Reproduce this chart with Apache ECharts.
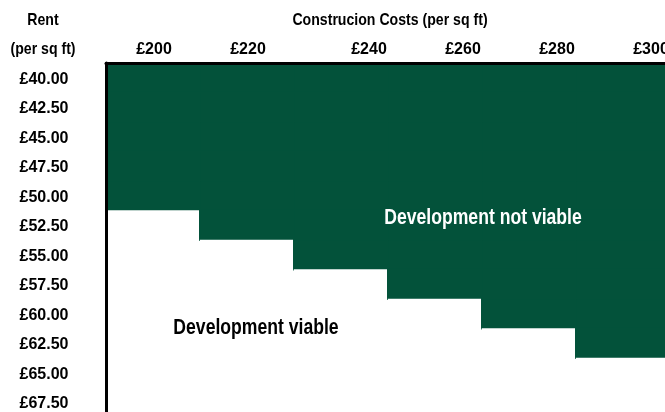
<!DOCTYPE html>
<html>
<head>
<meta charset="utf-8">
<style>html,body{margin:0;padding:0;background:#fff;overflow:hidden;width:665px;height:412px;}#c{width:675px;height:422px;}</style>
<script src="https://cdn.jsdelivr.net/npm/echarts@6/dist/echarts.min.js"></script>
</head>
<body>
<div id="c"></div>
<script>
// Data
const costs = ['£200', '£220', '£240', '£260', '£280', '£300'];
const rents = ['£40.00', '£42.50', '£45.00', '£47.50', '£50.00', '£52.50', '£55.00', '£57.50', '£60.00', '£62.50', '£65.00', '£67.50'];
// rent values for each row
const rentValues = [40, 42.5, 45, 47.5, 50, 52.5, 55, 57.5, 60, 62.5, 65, 67.5];
// minimum rent at which development becomes viable, per construction cost
const viableFromRent = [52.5, 55, 57.5, 60, 62.5, 65];
const xTitle = 'Construcion Costs (per sq ft)';
const yTitle1 = 'Rent';
const yTitle2 = '(per sq ft)';
const labelNotViable = 'Development not viable';
const labelViable = 'Development viable';

const FONT = '"Liberation Sans", Arial, sans-serif';
const GREEN = '#03523a';

const cells = [];
costs.forEach((c, xi) => {
  rentValues.forEach((r, yi) => {
    const v = r >= viableFromRent[xi] ? 0 : 1;
    cells.push({value: [xi, yi, v], itemStyle: v ? {borderWidth: 1.5, borderColor: GREEN} : {borderWidth: 0}});
  });
});

const chart = echarts.init(document.getElementById('c'), null, {renderer: 'canvas', width: 675, height: 422});
chart.setOption({
  animation: false,
  backgroundColor: '#fff',
  grid: {left: 106, top: 63, width: 564, height: 354},
  xAxis: {
    type: 'category', data: costs, position: 'top', z: 10,
    axisLine: {show: true, lineStyle: {color: '#000', width: 3}},
    axisTick: {show: false}, splitLine: {show: false},
    axisLabel: {
      margin: 5, color: '#000', fontFamily: FONT, fontWeight: 'bold', fontSize: 16,
      formatter: (v, i) => i >= 2 ? '{s|' + v + '}' : '{n|' + v + '}',
      rich: {
        n: {fontFamily: FONT, fontWeight: 'bold', fontSize: 16, color: '#000', padding: [0, 0, 0, 2]},
        s: {fontFamily: FONT, fontWeight: 'bold', fontSize: 16, color: '#000', padding: [0, 0, 0, 56]}
      }
    }
  },
  yAxis: {
    type: 'category', data: rents, inverse: true, z: 10,
    axisLine: {show: true, lineStyle: {color: '#000', width: 3}},
    axisTick: {show: false}, splitLine: {show: false},
    axisLabel: {
      margin: 62, align: 'center', color: '#000', fontFamily: FONT, fontWeight: 'bold', fontSize: 16,
      formatter: (v) => '{r|' + v + '}',
      rich: {r: {fontFamily: FONT, fontWeight: 'bold', fontSize: 16, color: '#000', padding: [3, 0, 0, 0]}}
    }
  },
  visualMap: {
    show: false, type: 'piecewise', dimension: 2,
    pieces: [{value: 1, color: GREEN}, {value: 0, color: '#ffffff'}]
  },
  series: [{
    type: 'heatmap', data: cells, z: 1,
    emphasis: {disabled: true}
  }],
  graphic: [
    {type: 'text', position: [43, 20], scaleX: 0.83, style: {text: yTitle1, x: 0, y: 0, textAlign: 'center', textVerticalAlign: 'middle', font: 'bold 17px ' + FONT, fill: '#000'}},
    {type: 'text', position: [43, 49], scaleX: 0.83, style: {text: yTitle2, x: 0, y: 0, textAlign: 'center', textVerticalAlign: 'middle', font: 'bold 17px ' + FONT, fill: '#000'}},
    {type: 'text', position: [390, 20], scaleX: 0.83, style: {text: xTitle, x: 0, y: 0, textAlign: 'center', textVerticalAlign: 'middle', font: 'bold 17px ' + FONT, fill: '#000'}},
    {type: 'text', position: [483, 218], scaleX: 0.8, z: 10, style: {text: labelNotViable, x: 0, y: 0, textAlign: 'center', textVerticalAlign: 'middle', font: 'bold 22px ' + FONT, fill: '#fff'}},
    {type: 'text', position: [256, 328], scaleX: 0.8, z: 10, style: {text: labelViable, x: 0, y: 0, textAlign: 'center', textVerticalAlign: 'middle', font: 'bold 22px ' + FONT, fill: '#000'}}
  ]
});
</script>
</body>
</html>
